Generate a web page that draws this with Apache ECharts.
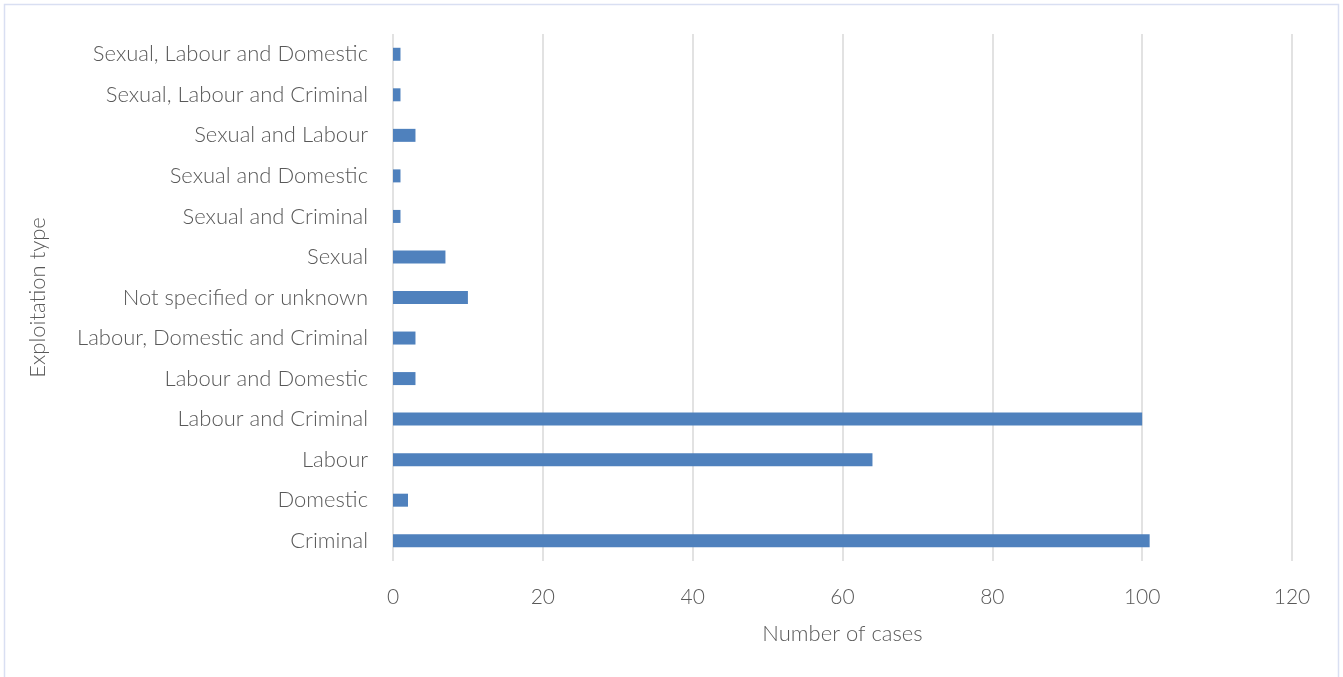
<!DOCTYPE html>
<html>
<head>
<meta charset="utf-8">
<script src="https://cdn.jsdelivr.net/npm/echarts@6/dist/echarts.min.js"></script>
<style>
html,body{margin:0;padding:0;background:#fff;}
#chart{width:1343px;height:677px;}
</style>
</head>
<body>
<div id="chart"></div>
<script>
const categories = [
  "Criminal",
  "Domestic",
  "Labour",
  "Labour and Criminal",
  "Labour and Domestic",
  "Labour, Domestic and Criminal",
  "Not specified or unknown",
  "Sexual",
  "Sexual and Criminal",
  "Sexual and Domestic",
  "Sexual and Labour",
  "Sexual, Labour and Criminal",
  "Sexual, Labour and Domestic"
];
const cases = [101, 2, 64, 100, 3, 3, 10, 7, 1, 1, 3, 1, 1];
const xTicks = [0, 20, 40, 60, 80, 100, 120];

const chart = echarts.init(document.getElementById('chart'));
const font = 'Lato, "Open Sans", sans-serif';
chart.setOption({
  animation: false,
  graphic: [{
    type: 'rect',
    shape: {x: 4.5, y: 4.5, width: 1334, height: 700},
    style: {fill: 'none', stroke: '#d9dff2', lineWidth: 1.5},
    silent: true
  }],
  grid: {left: 393, right: 51, top: 34, bottom: 116, containLabel: false},
  xAxis: {
    type: 'value',
    min: xTicks[0],
    max: xTicks[xTicks.length - 1],
    interval: 20,
    name: 'Number of cases',
    nameLocation: 'middle',
    nameGap: 62,
    nameTextStyle: {color: '#595959', fontSize: 22, fontFamily: font, fontWeight: 300},
    axisLine: {show: false},
    axisTick: {show: false},
    axisLabel: {color: '#595959', fontSize: 21, fontFamily: font, fontWeight: 300, margin: 26},
    splitLine: {show: true, lineStyle: {color: '#d9d9d9', width: 1.5}}
  },
  yAxis: {
    type: 'category',
    data: categories,
    name: 'Exploitation type',
    nameLocation: 'middle',
    nameRotate: 90,
    nameGap: 344,
    nameTextStyle: {color: '#595959', fontSize: 22, fontFamily: font, fontWeight: 300},
    axisLine: {show: false},
    axisTick: {show: false},
    axisLabel: {color: '#595959', fontSize: 22, fontFamily: font, fontWeight: 300, margin: 25},
    splitLine: {show: false}
  },
  series: [{
    type: 'bar',
    data: cases,
    barWidth: 13,
    itemStyle: {color: '#4f81bd'}
  }]
});
</script>
</body>
</html>
